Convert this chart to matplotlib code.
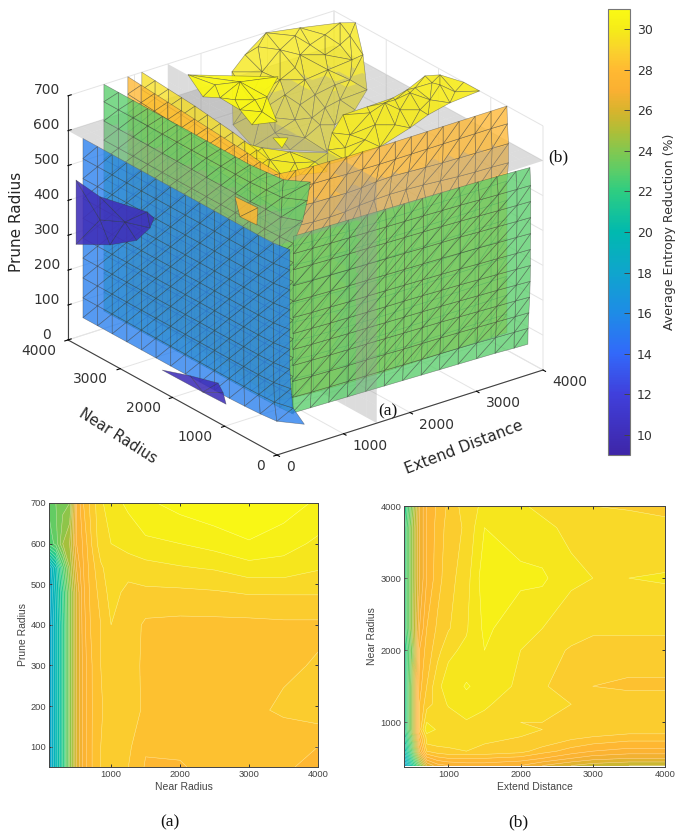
import numpy as np
import matplotlib
matplotlib.use('Agg')
import matplotlib.pyplot as plt
from matplotlib.colors import LinearSegmentedColormap, Normalize
from matplotlib.cm import ScalarMappable
from matplotlib.path import Path
from matplotlib.tri import Triangulation
from mpl_toolkits.mplot3d.art3d import Poly3DCollection
from mpl_toolkits.mplot3d import proj3d

# ---------- data ----------
CB_VALUES = [9, 12, 14, 16, 18, 20, 22, 23, 24, 25, 26, 27, 28, 29, 30, 31]
CB_COLORS = ['#3e26a8', '#4040dc', '#3269fa', '#1e8ce6', '#0fa5cd', '#00b9af', '#2dcd82', '#5acd69',
             '#82c850', '#afbe37', '#d7b42d', '#fab032', '#ffb932', '#fad22d', '#f5eb19', '#fafa14']
LEVEL_BLUE, LEVEL_GREEN, LEVEL_ORANGE, LEVEL_PURPLE = 15.2, 23.0, 27.8, 10.0

NEAR_NODES = [4000, 3720, 3440, 3160, 2880, 2600, 2320, 2040, 1760, 1480, 1200, 920, 640, 360, 100]
BLUE_PRUNE = [50, 107, 164, 221, 278, 335, 392, 449, 506, 564]
blue_flat = [225] * 13 + [232, 272]
BLUE_EXT = [
    [225] * 11 + [235, 250, 280, 490],
    [225] * 11 + [228, 232, 245, 320],
    [225] * 12 + [225, 235, 290],
    blue_flat, blue_flat, blue_flat, blue_flat, blue_flat, blue_flat, blue_flat]

GREEN_NEAR = [4000, 3720, 3440, 3160, 2880, 2600, 2320, 2040, 1760, 1480, 1200, 920, 640, 400]
SHEET_PRUNE = [50, 104, 158, 212, 266, 320, 375, 430, 485, 540, 595, 650, 700]
green_flat = [540] * 12 + [545, 560]
GREEN_EXT = [green_flat] * 10 + [
    [540] * 11 + [555, 565, 700],
    [540] * 11 + [562, 580, 770],
    [540] * 11 + [570, 600, 815]]

GREEN_R_EXT = [560, 830, 1100, 1370, 1640, 1910, 2180, 2450, 2720, 2990, 3260, 3530, 3800, 4000]
GREEN_R_PRUNE = [50, 96, 142, 188, 234, 280, 326, 372, 418, 464, 510, 560]
GREEN_R_NEAR = [
    [430, 420, 410, 400, 390, 380, 370, 360, 350, 340, 330, 320, 300, 290],
    [425, 405, 395, 385, 380, 370, 360, 350, 345, 335, 325, 310, 295, 285],
    [420, 400, 390, 380, 375, 365, 350, 345, 335, 325, 310, 295, 280, 270],
    [415, 400, 385, 375, 370, 360, 350, 340, 330, 315, 300, 285, 270, 255],
    [415, 395, 385, 375, 365, 355, 345, 335, 325, 310, 295, 280, 260, 245],
    [410, 395, 380, 370, 360, 350, 345, 335, 320, 310, 290, 275, 255, 240],
    [410, 390, 380, 365, 360, 350, 340, 330, 320, 305, 285, 270, 250, 240],
    [405, 390, 375, 365, 355, 345, 335, 325, 315, 300, 285, 265, 250, 235],
    [405, 385, 375, 365, 355, 345, 335, 320, 310, 300, 280, 265, 245, 235],
    [400, 385, 370, 360, 350, 340, 330, 320, 310, 295, 280, 260, 245, 235],
    [400, 385, 370, 360, 350, 340, 330, 320, 305, 295, 275, 260, 245, 235],
    [400, 390, 380, 370, 360, 350, 340, 330, 320, 310, 300, 285, 265, 250]]

ORANGE_NEAR = [4000, 3720, 3440, 3160, 2880, 2600, 2320, 2040, 1760, 1480, 1200, 800]
ORANGE_EXT = [[900, 880, 860, 840, 820, 800, 780, 760, 740, 720, 690, 670]] * 13
ORANGE_R_EXT = [670, 880, 1120, 1360, 1600, 1840, 2080, 2320, 2560, 2800, 3040, 3280, 3520, 3760, 4000]
orange_r_row = [800, 760, 730, 720, 700, 700, 690, 690, 690, 690, 690, 690, 690, 690, 690]
ORANGE_R_NEAR = [orange_r_row] * 9 + [
    [800, 760, 730, 720, 730, 770, 790, 800, 790, 770, 740, 710, 690, 680, 660],
    [800, 760, 730, 720, 710, 720, 750, 760, 740, 720, 700, 690, 680, 670, 660],
    [800, 760, 730, 720, 700, 700, 690, 690, 690, 690, 690, 690, 690, 690, 680],
    orange_r_row]

YELLOW_NEAR = [4000, 3720, 3440, 3160, 2880, 2600, 2320, 2040, 1760, 1480, 1200]
YELLOW_EXT = [[1110, 1090, 1070, 1050, 1030, 1000, 970, 940, 900, 860, 810]] * 13

PURPLE_A = ([90] * 10,
            [3960, 3500, 2600, 2468, 2544, 2800, 3310, 3960, 3500, 3024],
            [456, 446, 477, 470, 436, 379, 324, 272, 380, 413], 8)
PURPLE_B = ([80] * 6, [2300, 1760, 1228, 1132, 1076, 1520], [49, 77, 100, 80, 52, 50], 6)
DIAMOND = ([480] * 4, [1416, 976, 996, 1320], [595, 599, 548, 545], 4)

SPOT = ([1586, 1728, 1498], [2095, 1989, 1811], [640, 640, 640], 3)
WING_R = ([4000,4000,3902,3772,3449,3208,2835,2468,2113,1841,1633,1890,2388,2881,3217,3573,2280,2660,3097,3465,3781,2068,2366,2850,3227,2772,3192,3530,3759,3063,3414,3718],
          [1214,1517,1846,1968,1902,1863,1886,1878,1636,1367,1121,1104,1068,1121,1204,1237,1504,1510,1588,1482,1405,1330,1327,1369,1370,1748,1804,1851,1665,1832,1799,1765],
          [700,700,700,695,680,675,670,670,660,650,640,640,650,670,680,690,655,660,670,685,695,645,650,660,680,668,675,685,695,672,682,695], 16)
LIP = ([1082,1248,1445,1789,1511,1203,913,864,870,1086,1314,1540],
       [2085,1875,1590,1301,967,1091,1009,1272,1625,1517,1328,1233],
       [660,650,650,650,640,640,650,660,665,655,648,645], 9)
BOWL = ([2973,3383,3850,4000,3937,3611,3241,2882,2520,2203,1842,1731,2035,2393,2993,3425,3771,2622,3126,3495,3592,2805,3120,3272,2387,2618,2800,2264,2523,2715,3257,3620,3901,3217,3515,3806,2836,3134,3393,2835,3051,2433,2385,2815],
        [3994,3865,3694,3589,3365,2873,2633,2558,2251,2555,2804,3045,3452,3658,3752,3727,3593,3624,3634,3473,3175,3417,3244,2958,3325,2988,2740,2919,2675,3819,3801,3689,3567,3654,3555,3409,3552,3453,3208,3168,2964,3134,3553,2912],
        [700,700,700,700,630,590,575,560,530,530,540,590,690,700,670,660,650,640,620,605,595,580,575,575,570,555,550,545,535,690,690,680,670,650,640,620,610,600,590,570,565,560,580,555], 14)
WING_L = ([1505,2326,1936,1599,1370,1472,1327,1649,1939,1830,1689,1640,1515],
          [3618,2941,2655,2035,2222,2964,3105,3285,3175,2751,2437,2891,2636],
          [700,700,690,690,680,690,690,690,690,680,680,680,680], 7)

A_NEAR = [100, 200, 300, 400, 500, 600, 700, 850, 1000, 1250, 1500, 2000, 2500, 3000, 3500, 4000]
A_PRUNE = [50, 100, 190, 300, 400, 480, 540, 600, 700]
A_VALUES = [
    [18.0, 19.5, 21.5, 24.0, 26.0, 27.2, 27.9, 28.5, 28.7, 28.5, 27.95, 27.95, 28.2, 28.2, 28.05, 27.9],
    [18.0, 19.5, 21.5, 24.0, 26.0, 27.2, 27.9, 28.5, 28.7, 28.6, 28.05, 28.1, 28.2, 28.2, 28.1, 28.0],
    [18.0, 19.5, 21.5, 24.0, 26.0, 27.2, 27.9, 28.45, 28.7, 28.75, 28.4, 28.3, 28.3, 28.35, 28.6, 28.8],
    [18.0, 19.5, 21.5, 24.0, 26.0, 27.2, 27.9, 28.5, 28.8, 28.8, 28.35, 28.3, 28.3, 28.35, 28.4, 28.55],
    [18.0, 19.5, 21.5, 24.0, 26.0, 27.3, 28.0, 28.5, 29.0, 28.8, 28.4, 28.35, 28.35, 28.35, 28.4, 28.4],
    [18.2, 19.7, 21.7, 24.0, 26.0, 27.4, 28.1, 28.7, 29.2, 28.85, 28.9, 28.9, 28.95, 29.05, 29.05, 29.05],
    [18.5, 20.0, 22.5, 24.5, 26.5, 27.5, 28.2, 28.9, 29.3, 29.2, 29.3, 29.45, 29.55, 29.8, 29.8, 29.55],
    [22.6, 23.2, 24.5, 25.0, 27.0, 27.6, 28.4, 29.3, 29.5, 29.7, 29.9, 30.0, 30.2, 30.45, 30.2, 29.9],
    [23.2, 23.5, 23.8, 24.0, 27.0, 28.0, 28.6, 29.4, 29.8, 30.1, 30.4, 30.7, 30.9, 31.0, 30.8, 30.4]]

B_EXT = [400, 500, 600, 700, 850, 1000, 1250, 1500, 2000, 2300, 2700, 3000, 3500, 4000]
B_NEAR = [400, 500, 600, 700, 800, 900, 1000, 1250, 1500, 2000, 2300, 3000, 3700, 4000]
B_VALUES = [
    [18.0, 21.0, 23.5, 26.0, 26.8, 27.0, 27.2, 27.2, 27.0, 26.5, 26.0, 25.7, 25.5, 25.5],
    [19.0, 22.0, 25.0, 27.3, 27.8, 28.0, 28.0, 28.0, 27.8, 27.5, 27.0, 26.7, 26.5, 26.5],
    [20.0, 23.0, 26.5, 28.5, 28.8, 28.9, 29.0, 28.9, 28.7, 28.2, 27.8, 27.5, 27.3, 27.3],
    [20.5, 23.5, 27.0, 29.0, 29.1, 29.1, 29.2, 29.0, 28.9, 28.7, 28.2, 28.0, 27.8, 27.8],
    [21.0, 24.0, 27.5, 29.2, 29.1, 29.2, 29.3, 29.3, 29.0, 28.9, 28.7, 28.5, 28.3, 28.3],
    [21.5, 24.5, 28.2, 29.9, 29.4, 29.2, 29.2, 29.5, 29.05, 29.0, 28.9, 28.9, 28.8, 28.8],
    [21.5, 24.5, 28.0, 29.5, 29.1, 29.2, 29.45, 29.4, 29.0, 29.0, 28.95, 29.0, 29.0, 29.0],
    [21.5, 24.5, 28.0, 28.8, 29.2, 29.55, 29.8, 29.55, 29.3, 29.1, 29.0, 28.8, 28.8, 28.8],
    [21.5, 24.5, 27.8, 28.5, 29.4, 29.7, 30.05, 29.8, 29.4, 29.05, 28.8, 28.5, 28.4, 28.4],
    [21.5, 24.0, 27.5, 28.2, 28.8, 29.4, 29.6, 30.0, 29.5, 29.2, 28.95, 28.8, 28.8, 28.8],
    [22.0, 24.5, 27.0, 28.0, 28.6, 28.95, 29.45, 30.1, 29.7, 29.5, 29.2, 29.1, 29.1, 29.1],
    [22.0, 24.5, 26.5, 27.5, 28.3, 28.8, 29.3, 30.3, 30.1, 30.1, 29.6, 29.5, 29.5, 29.55],
    [22.0, 24.5, 26.5, 27.5, 28.2, 28.7, 29.1, 30.0, 29.8, 29.6, 29.4, 29.3, 29.2, 29.1],
    [21.5, 24.0, 26.5, 27.5, 28.1, 28.6, 29.3, 29.6, 29.55, 29.4, 29.1, 29.0, 28.95, 28.9]]

SLICE_A_EXT = 1500
SLICE_B_PRUNE = 600
AXIS_TICKS = [0, 1000, 2000, 3000, 4000]
PRUNE_TICKS = [0, 100, 200, 300, 400, 500, 600, 700]

# ---------- colours ----------
cb_pos = [(v - CB_VALUES[0]) / (CB_VALUES[-1] - CB_VALUES[0]) for v in CB_VALUES]
cmap = LinearSegmentedColormap.from_list('entropy', list(zip(cb_pos, CB_COLORS)))
norm = Normalize(CB_VALUES[0], CB_VALUES[-1])

W, H = 683, 832
fig = plt.figure(figsize=(W / 100, H / 100), dpi=100)

# ---------- 3D axes ----------
ax = fig.add_axes([0, 0, 1, 1], projection='3d', proj_type='ortho', computed_zorder=False)
ax.patch.set_alpha(0)
ax.view_init(elev=24.8, azim=-127.3)
ax.set_box_aspect((334.5, 345, 269))
ax.set_xlim(0, 4000, view_margin=0)
ax.set_ylim(0, 4000, view_margin=0)
ax.set_zlim(0, 700, view_margin=0)

def locate(x, y, z):
    ax.apply_aspect()
    px, py, _ = proj3d.proj_transform(np.asarray(x, float), np.asarray(y, float), np.asarray(z, float), ax.get_proj())
    return ax.transData.transform(np.column_stack([px, py]))

def fit_axes():
    side = 800.0
    cx, cy = 340.0, 832 - 240.0
    for _ in range(4):
        ax.set_position([(cx - side / 2) / W, (cy - side / 2) / H, side / W, side / H])
        p = locate([4000, 0, 0], [0, 4000, 0], [0, 0, 0])
        side *= 475.0 / (p[0, 0] - p[1, 0])
        ax.set_position([(cx - side / 2) / W, (cy - side / 2) / H, side / W, side / H])
        p = locate([0], [0], [0])
        cx += 277 - p[0, 0]
        cy += (832 - 455) - p[0, 1]
    ax.set_position([(cx - side / 2) / W, (cy - side / 2) / H, side / W, side / H])
fit_axes()

EDGE = (0.2, 0.2, 0.2, 0.5)
NONE = (0, 0, 0, 0)
GREY = (150 / 255, 150 / 255, 150 / 255, 0.33)
main = ([], [], [])    # polygons, face colours, edge colours; sorted by depth together
front = ([], [], [])   # the small patches that lie on the viewer's side of their neighbours

def push(store, poly, face, edge):
    store[0].append(poly); store[1].append(face); store[2].append(edge)

def add_grid(X, Y, Z, value, alpha):
    X, Y, Z = map(lambda a: np.asarray(a, float), (X, Y, Z))
    rgba = list(cmap(norm(value)))
    rgba[3] = alpha
    for i in range(X.shape[0] - 1):
        for j in range(X.shape[1] - 1):
            a = (X[i, j], Y[i, j], Z[i, j])
            b = (X[i, j + 1], Y[i, j + 1], Z[i, j + 1])
            c = (X[i + 1, j + 1], Y[i + 1, j + 1], Z[i + 1, j + 1])
            d = (X[i + 1, j], Y[i + 1, j], Z[i + 1, j])
            push(main, (a, b, c), rgba, EDGE)
            push(main, (a, c, d), rgba, EDGE)

def left_sheet(ext, near, prune, value, alpha=0.78):
    N, P = np.meshgrid(near, prune)
    add_grid(ext, N, P, value, alpha)

def right_sheet(near, ext, prune, value, alpha=0.78):
    E, P = np.meshgrid(ext, prune)
    add_grid(E, near, P, value, alpha)

def add_blob(e, n, z, n_outline, value, alpha=0.85, store=main):
    e, n, z = np.array(e, float), np.array(n, float), np.array(z, float)
    xy = locate(e, n, z)
    outline = Path(xy[:n_outline])
    tr = Triangulation(xy[:, 0], xy[:, 1])
    rgba = list(cmap(norm(value)))
    rgba[3] = alpha
    for t in tr.triangles:
        if outline.contains_point(xy[t].mean(axis=0)):
            push(store, list(zip(e[t], n[t], z[t])), rgba, EDGE)

left_sheet(BLUE_EXT, NEAR_NODES, BLUE_PRUNE, LEVEL_BLUE)
left_sheet(GREEN_EXT, GREEN_NEAR, SHEET_PRUNE, LEVEL_GREEN)
right_sheet(GREEN_R_NEAR, GREEN_R_EXT, GREEN_R_PRUNE, LEVEL_GREEN)
left_sheet(ORANGE_EXT, ORANGE_NEAR, SHEET_PRUNE, LEVEL_ORANGE)
right_sheet(ORANGE_R_NEAR, ORANGE_R_EXT, SHEET_PRUNE, LEVEL_ORANGE)
left_sheet(YELLOW_EXT, YELLOW_NEAR, SHEET_PRUNE, 29.5)
add_blob(*BOWL, 29.8, 0.8)
add_blob(*WING_R, 29.9, 0.9)
add_blob(*LIP, 30.0, 0.92)
add_blob(*WING_L, 30.8, 0.95, store=front)
add_blob(*SPOT, 30.8, 0.95, store=front)
add_blob(*PURPLE_A, LEVEL_PURPLE, 0.88, store=front)
add_blob(*PURPLE_B, LEVEL_PURPLE, 0.88, store=front)
add_blob(*DIAMOND, LEVEL_ORANGE, 0.85, store=front)

# slice planes, in small cells so that depth sorting works
cells_a_n = np.linspace(0, 4000, 21)
cells_a_z = np.linspace(0, 700, 15)
cells_b = np.linspace(0, 4000, 21)
for i in range(len(cells_a_n) - 1):
    for j in range(len(cells_a_z) - 1):
        n0, n1, z0, z1 = cells_a_n[i], cells_a_n[i + 1], cells_a_z[j], cells_a_z[j + 1]
        push(main, [(SLICE_A_EXT, n0, z0), (SLICE_A_EXT, n1, z0), (SLICE_A_EXT, n1, z1), (SLICE_A_EXT, n0, z1)], GREY, NONE)
for i in range(len(cells_b) - 1):
    for j in range(len(cells_b) - 1):
        e0, e1, n0, n1 = cells_b[i], cells_b[i + 1], cells_b[j], cells_b[j + 1]
        push(main, [(e0, n0, SLICE_B_PRUNE), (e1, n0, SLICE_B_PRUNE), (e1, n1, SLICE_B_PRUNE), (e0, n1, SLICE_B_PRUNE)], GREY, NONE)

for store, order in ((main, 1), (front, 2)):
    coll = Poly3DCollection(store[0], facecolors=store[1], edgecolors=store[2], linewidths=0.42, zsort='average')
    coll.set_zorder(order)
    ax.add_collection3d(coll, autolim=False)

for axis, ticks in ((ax.xaxis, AXIS_TICKS), (ax.yaxis, AXIS_TICKS), (ax.zaxis, PRUNE_TICKS)):
    axis.set_ticks(ticks)
    axis.set_pane_color((1, 1, 1, 0))
    axis.pane.set_edgecolor((1, 1, 1, 0))
    axis.line.set_color('#404040')
    axis.line.set_linewidth(0.8)
    axis._axinfo['grid'].update(color='#e4e4e4', linewidth=0.7)
    axis._axinfo['tick'].update(inward_factor=0.15 if axis is not ax.zaxis else 0.0,
                                outward_factor=0.0 if axis is not ax.zaxis else 0.15,
                                color='#404040', linewidth={True: 0.8, False: 0.5})
    axis.label.set_visible(False)
ax.tick_params(axis='both', labelsize=10, labelcolor='#333333', pad=1)
plt.setp(ax.get_xticklabels(), ha='left', va='baseline')
plt.setp(ax.get_yticklabels(), ha='right', va='baseline')
plt.setp(ax.get_zticklabels(), va='baseline')

def px_text(x, y, s, **kw):
    return fig.text(x / W, 1 - y / H, s, ha='center', va='center', **kw)

px_text(464, 447, 'Extend Distance', rotation=21, fontsize=11, color='#262626')
px_text(118, 436, 'Near Radius', rotation=-32.5, fontsize=10.5, color='#262626')
px_text(17, 222, 'Prune Radius', rotation=90, fontsize=11, color='#262626')
px_text(388, 411, '(a)', family='Liberation Serif', fontsize=12.5, color='#111111')
px_text(558, 157, '(b)', family='Liberation Serif', fontsize=12.5, color='#111111')

# ---------- colour bar ----------
cax = fig.add_axes([608 / W, 1 - 455 / H, 22 / W, 446 / H])
cb = fig.colorbar(ScalarMappable(norm=norm, cmap=cmap), cax=cax)
cb.set_ticks(range(10, 31, 2))
cb.ax.tick_params(direction='in', length=4, width=0.7, color='#444444', labelsize=9, labelcolor='#333333', pad=5)
cb.outline.set_edgecolor('#777777')
cb.outline.set_linewidth(0.8)
cb.set_label('Average Entropy Reduction (%)', fontsize=9, color='#333333', labelpad=7)

# ---------- contour panels ----------
LEVELS = np.arange(15, 31.6, 0.5)
def panel(rect, x, y, values, xlabel, ylabel, xlim, ylim, xticks, yticks, caption, capx):
    l, t, r, b = rect
    a = fig.add_axes([l / W, 1 - b / H, (r - l) / W, (b - t) / H])
    a.contourf(x, y, values, levels=LEVELS, cmap=cmap, norm=norm, extend='both')
    a.contour(x, y, values, levels=LEVELS, colors='white', linewidths=0.35, alpha=0.55)
    a.set_xlim(*xlim); a.set_ylim(*ylim)
    a.set_xticks(xticks); a.set_yticks(yticks)
    a.tick_params(direction='in', top=True, right=True, length=2, width=0.7, color='#333333', labelsize=6.7,
                  labelcolor='#444444', pad=2)
    for lab in a.get_xticklabels() + a.get_yticklabels():
        lab.set_family('Liberation Sans')
    for s in a.spines.values():
        s.set_linewidth(0.7); s.set_color('#444444')
    a.set_xlabel(xlabel, family='Liberation Sans', fontsize=7.5, color='#444444', labelpad=2)
    a.set_ylabel(ylabel, family='Liberation Sans', fontsize=7.5, color='#444444', labelpad=2)
    px_text(capx, 822, caption, family='Liberation Serif', fontsize=12.5, color='#111111')

panel((49, 503, 318, 767), A_NEAR, A_PRUNE, A_VALUES, 'Near Radius', 'Prune Radius', (100, 4000), (50, 700),
      [1000, 2000, 3000, 4000], [100, 200, 300, 400, 500, 600, 700], '(a)', 170)
panel((404, 506, 665, 767), B_EXT, B_NEAR, B_VALUES, 'Extend Distance', 'Near Radius', (385, 4000), (380, 4000),
      [1000, 2000, 3000, 4000], [1000, 2000, 3000, 4000], '(b)', 518)

fig.savefig('out.png', dpi=100)
